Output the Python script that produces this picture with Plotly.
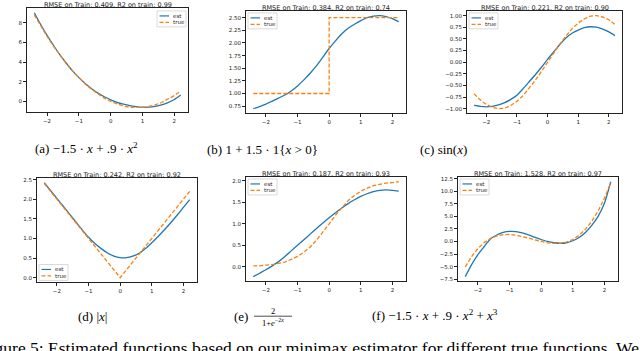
import plotly.graph_objects as go

W, H = 640, 351

x = [-2.4, -2.2, -2.0, -1.8, -1.6, -1.4, -1.2, -1.0, -0.8, -0.6, -0.4, -0.2,
     0.0, 0.2, 0.4, 0.6, 0.8, 1.0, 1.2, 1.4, 1.6, 1.8, 2.0, 2.2]

# (a) -1.5x + .9x^2
est_a = [9.0, 7.8, 6.7, 5.7, 4.75, 3.9, 3.1, 2.42, 1.82, 1.3, 0.85, 0.48,
         0.17, -0.08, -0.27, -0.42, -0.52, -0.58, -0.58, -0.5, -0.35, -0.12, 0.2, 0.65]
true_a = [8.78, 7.66, 6.6, 5.62, 4.7, 3.86, 3.1, 2.4, 1.78, 1.22, 0.74, 0.34,
          0.0, -0.26, -0.46, -0.58, -0.62, -0.6, -0.5, -0.34, -0.1, 0.22, 0.6, 1.06]

# (b) 1 + 1.5 * 1{x > 0}
est_b = [0.7, 0.74, 0.79, 0.85, 0.91, 0.97, 1.05, 1.15, 1.27, 1.4, 1.55, 1.72,
         1.89, 2.04, 2.18, 2.29, 2.37, 2.44, 2.5, 2.53, 2.54, 2.52, 2.48, 2.42]
true_b_x = [-2.4, 0.0, 2.2]
true_b = [1.0, 2.5, 2.5]

# (c) sin(x)
est_c = [-0.93, -0.95, -0.96, -0.95, -0.92, -0.87, -0.8, -0.71, -0.57, -0.42, -0.27, -0.11,
         0.06, 0.22, 0.38, 0.52, 0.62, 0.69, 0.74, 0.76, 0.75, 0.71, 0.65, 0.57]
true_c = [-0.68, -0.81, -0.91, -0.97, -1.0, -0.99, -0.93, -0.84, -0.72, -0.56, -0.39, -0.2,
          0.0, 0.2, 0.39, 0.56, 0.72, 0.84, 0.93, 0.99, 1.0, 0.97, 0.91, 0.81]

# (d) |x|
est_d = [2.42, 2.22, 2.02, 1.82, 1.62, 1.42, 1.22, 1.03, 0.87, 0.74, 0.63, 0.55,
         0.51, 0.51, 0.55, 0.62, 0.74, 0.89, 1.05, 1.22, 1.4, 1.59, 1.79, 1.99]
true_d = [2.4, 2.2, 2.0, 1.8, 1.6, 1.4, 1.2, 1.0, 0.8, 0.6, 0.4, 0.2,
          0.0, 0.2, 0.4, 0.6, 0.8, 1.0, 1.2, 1.4, 1.6, 1.8, 2.0, 2.2]

# (e) 2 / (1 + e^-2x)
est_e = [-0.23, -0.15, -0.07, 0.02, 0.12, 0.24, 0.37, 0.5, 0.63, 0.76, 0.89, 1.02,
         1.14, 1.26, 1.37, 1.47, 1.56, 1.64, 1.7, 1.75, 1.78, 1.79, 1.78, 1.76]
true_e = [0.02, 0.02, 0.04, 0.05, 0.08, 0.11, 0.17, 0.24, 0.34, 0.46, 0.62, 0.8,
          1.0, 1.2, 1.38, 1.54, 1.66, 1.76, 1.83, 1.89, 1.92, 1.95, 1.96, 1.98]

# (f) -1.5x + .9x^2 + x^3
est_f = [-7.0, -4.6, -2.6, -1.0, 0.55, 1.3, 1.8, 2.0, 1.95, 1.7, 1.3, 0.85,
         0.4, 0.0, -0.25, -0.35, -0.25, 0.15, 0.8, 1.8, 3.2, 5.0, 7.6, 11.9]
true_f = [-5.04, -2.99, -1.4, -0.22, 0.61, 1.12, 1.37, 1.4, 1.26, 1.01, 0.68, 0.33,
          0.0, -0.26, -0.39, -0.36, -0.11, 0.4, 1.22, 2.41, 4.0, 6.05, 8.6, 11.7]

titles = [
    "RMSE on Train: 0.409, R2 on train: 0.99",
    "RMSE on Train: 0.384, R2 on train: 0.74",
    "RMSE on Train: 0.221, R2 on train: 0.90",
    "RMSE on Train: 0.242, R2 on train: 0.92",
    "RMSE on Train: 0.187, R2 on train: 0.93",
    "RMSE on Train: 1.528, R2 on train: 0.97",
]

BLUE = "#1f77b4"
ORANGE = "#ff7f0e"
DASH = "4px,2px"


def px(v):
    return v / W


def py(v):
    return 1 - v / H


# panel boxes in pixels: left, right, top, bottom
boxes = [(27, 188, 7, 112), (246, 406, 10, 113), (467, 622, 10, 113),
         (37, 197, 178, 283), (246, 406, 177, 282), (458, 618, 177, 282)]
legend_corner = ["ur", "ul", "ul", "ll", "ul", "ul"]
ytick = [(2, "d"), (0.25, ".2f"), (0.25, ".2f"), (0.5, ".1f"), (0.5, ".1f"), (2.5, ".1f")]

panels = [
    (x, est_a, x, true_a, "linear"),
    (x, est_b, true_b_x, true_b, "hv"),
    (x, est_c, x, true_c, "linear"),
    (x, est_d, x, true_d, "linear"),
    (x, est_e, x, true_e, "linear"),
    (x, est_f, x, true_f, "linear"),
]

small = dict(family="DejaVu Sans", size=5.5, color="#222")

fig = go.Figure()
layout = dict(width=W, height=H, margin=dict(l=0, r=0, t=0, b=0), showlegend=False,
              plot_bgcolor="white", paper_bgcolor="white", annotations=[], shapes=[])


def add_legend(bl, bt):
    # matplotlib-style legend box: 29 x 16 px
    layout["shapes"].append(dict(type="rect", xref="paper", yref="paper", layer="above",
                                 x0=px(bl), x1=px(bl + 29), y0=py(bt + 16), y1=py(bt),
                                 fillcolor="rgba(255,255,255,0.85)",
                                 line=dict(color="#d0d0d0", width=0.8)))
    for k, (name, color, dash) in enumerate([("est", BLUE, "solid"), ("true", ORANGE, DASH)]):
        yy = bt + 5 + k * 6.5
        layout["shapes"].append(dict(type="line", xref="paper", yref="paper", layer="above",
                                     x0=px(bl + 2.5), x1=px(bl + 12), y0=py(yy), y1=py(yy),
                                     line=dict(color=color, width=1.2, dash=dash)))
        layout["annotations"].append(dict(text=name, xref="paper", yref="paper",
                                          x=px(bl + 14.5), y=py(yy), xanchor="left",
                                          yanchor="middle", showarrow=False, font=small,
                                          borderpad=0))


for i, (xe, ye, xt, yt, shape) in enumerate(panels):
    n = "" if i == 0 else str(i + 1)
    fig.add_trace(go.Scatter(x=xe, y=ye, mode="lines", name="est",
                             line=dict(color=BLUE, width=1.3, shape="spline", smoothing=0.6),
                             xaxis="x" + n, yaxis="y" + n))
    fig.add_trace(go.Scatter(x=xt, y=yt, mode="lines", name="true",
                             line=dict(color=ORANGE, width=1.3, dash=DASH, shape=shape),
                             xaxis="x" + n, yaxis="y" + n))
    l, r, t, b = boxes[i]
    xs = xe + xt
    ys = ye + yt
    xpad = (max(xs) - min(xs)) * 0.05
    ypad = (max(ys) - min(ys)) * 0.05
    ax = dict(showline=True, mirror=True, linecolor="#222", linewidth=0.8,
              ticks="outside", ticklen=3, tickwidth=0.8, tickcolor="#222",
              showgrid=False, zeroline=False, tickfont=small)
    layout["xaxis" + n] = dict(ax, domain=[px(l), px(r)], anchor="y" + n,
                               range=[min(xs) - xpad, max(xs) + xpad], dtick=1, tick0=0)
    layout["yaxis" + n] = dict(ax, domain=[py(b), py(t)], anchor="x" + n,
                               range=[min(ys) - ypad, max(ys) + ypad],
                               dtick=ytick[i][0], tick0=0, tickformat=ytick[i][1])
    corner = legend_corner[i]
    if corner == "ur":
        add_legend(r - 31, t + 3)
    elif corner == "ll":
        add_legend(l + 2, b - 18)
    else:
        add_legend(l + 2, t + 2)
    layout["annotations"].append(dict(
        text=titles[i], xref="paper", yref="paper", x=px((l + r) / 2), y=py(t - 3),
        xanchor="center", yanchor="middle", showarrow=False, borderpad=0,
        font=dict(family="DejaVu Sans", size=6.5, color="#222")))

serif = dict(family="Liberation Serif", size=13, color="black")
captions = [
    ("(a) −1.5 · <i>x</i> + .9 · <i>x</i><sup>2</sup>", 86, 148),
    ("(b) 1 + 1.5 · 1{<i>x</i> > 0}", 262, 149),
    ("(c) sin(<i>x</i>)", 443, 149),
    ("(d) |<i>x</i>|", 92, 317),
    ("(f) −1.5 · <i>x</i> + .9 · <i>x</i><sup>2</sup> + <i>x</i><sup>3</sup>", 435, 316),
]
for txt, cx, cy in captions:
    layout["annotations"].append(dict(text=txt, xref="paper", yref="paper", x=px(cx), y=py(cy),
                                      xanchor="center", yanchor="middle", showarrow=False,
                                      font=serif, borderpad=0))

# (e) caption with a stacked fraction
frac = dict(family="Liberation Serif", size=8.5, color="black")
layout["annotations"].append(dict(text="(e)", xref="paper", yref="paper", x=px(249), y=py(317),
                                  xanchor="right", yanchor="middle", showarrow=False, font=serif,
                                  borderpad=0))
layout["annotations"].append(dict(text="2", xref="paper", yref="paper", x=px(273), y=py(312),
                                  xanchor="center", yanchor="middle", showarrow=False, font=frac,
                                  borderpad=0))
layout["annotations"].append(dict(text="1+<i>e</i><sup>−2<i>x</i></sup>", xref="paper", yref="paper",
                                  x=px(273), y=py(323), xanchor="center", yanchor="middle",
                                  showarrow=False, font=frac, borderpad=0))
layout["shapes"].append(dict(type="line", xref="paper", yref="paper", x0=px(254), x1=px(292),
                             y0=py(317), y1=py(317), line=dict(color="black", width=0.7)))

layout["annotations"].append(dict(
    text="Figure 5: Estimated functions based on our minimax estimator for different true functions. We",
    xref="paper", yref="paper", x=px(-21), y=py(349), xanchor="left", yanchor="middle",
    showarrow=False, borderpad=0, font=dict(family="Liberation Serif", size=17.5, color="black")))

fig.update_layout(**layout)
fig.write_html("out.html", config={"displayModeBar": False},
               post_script="document.body.style.margin='0';")
